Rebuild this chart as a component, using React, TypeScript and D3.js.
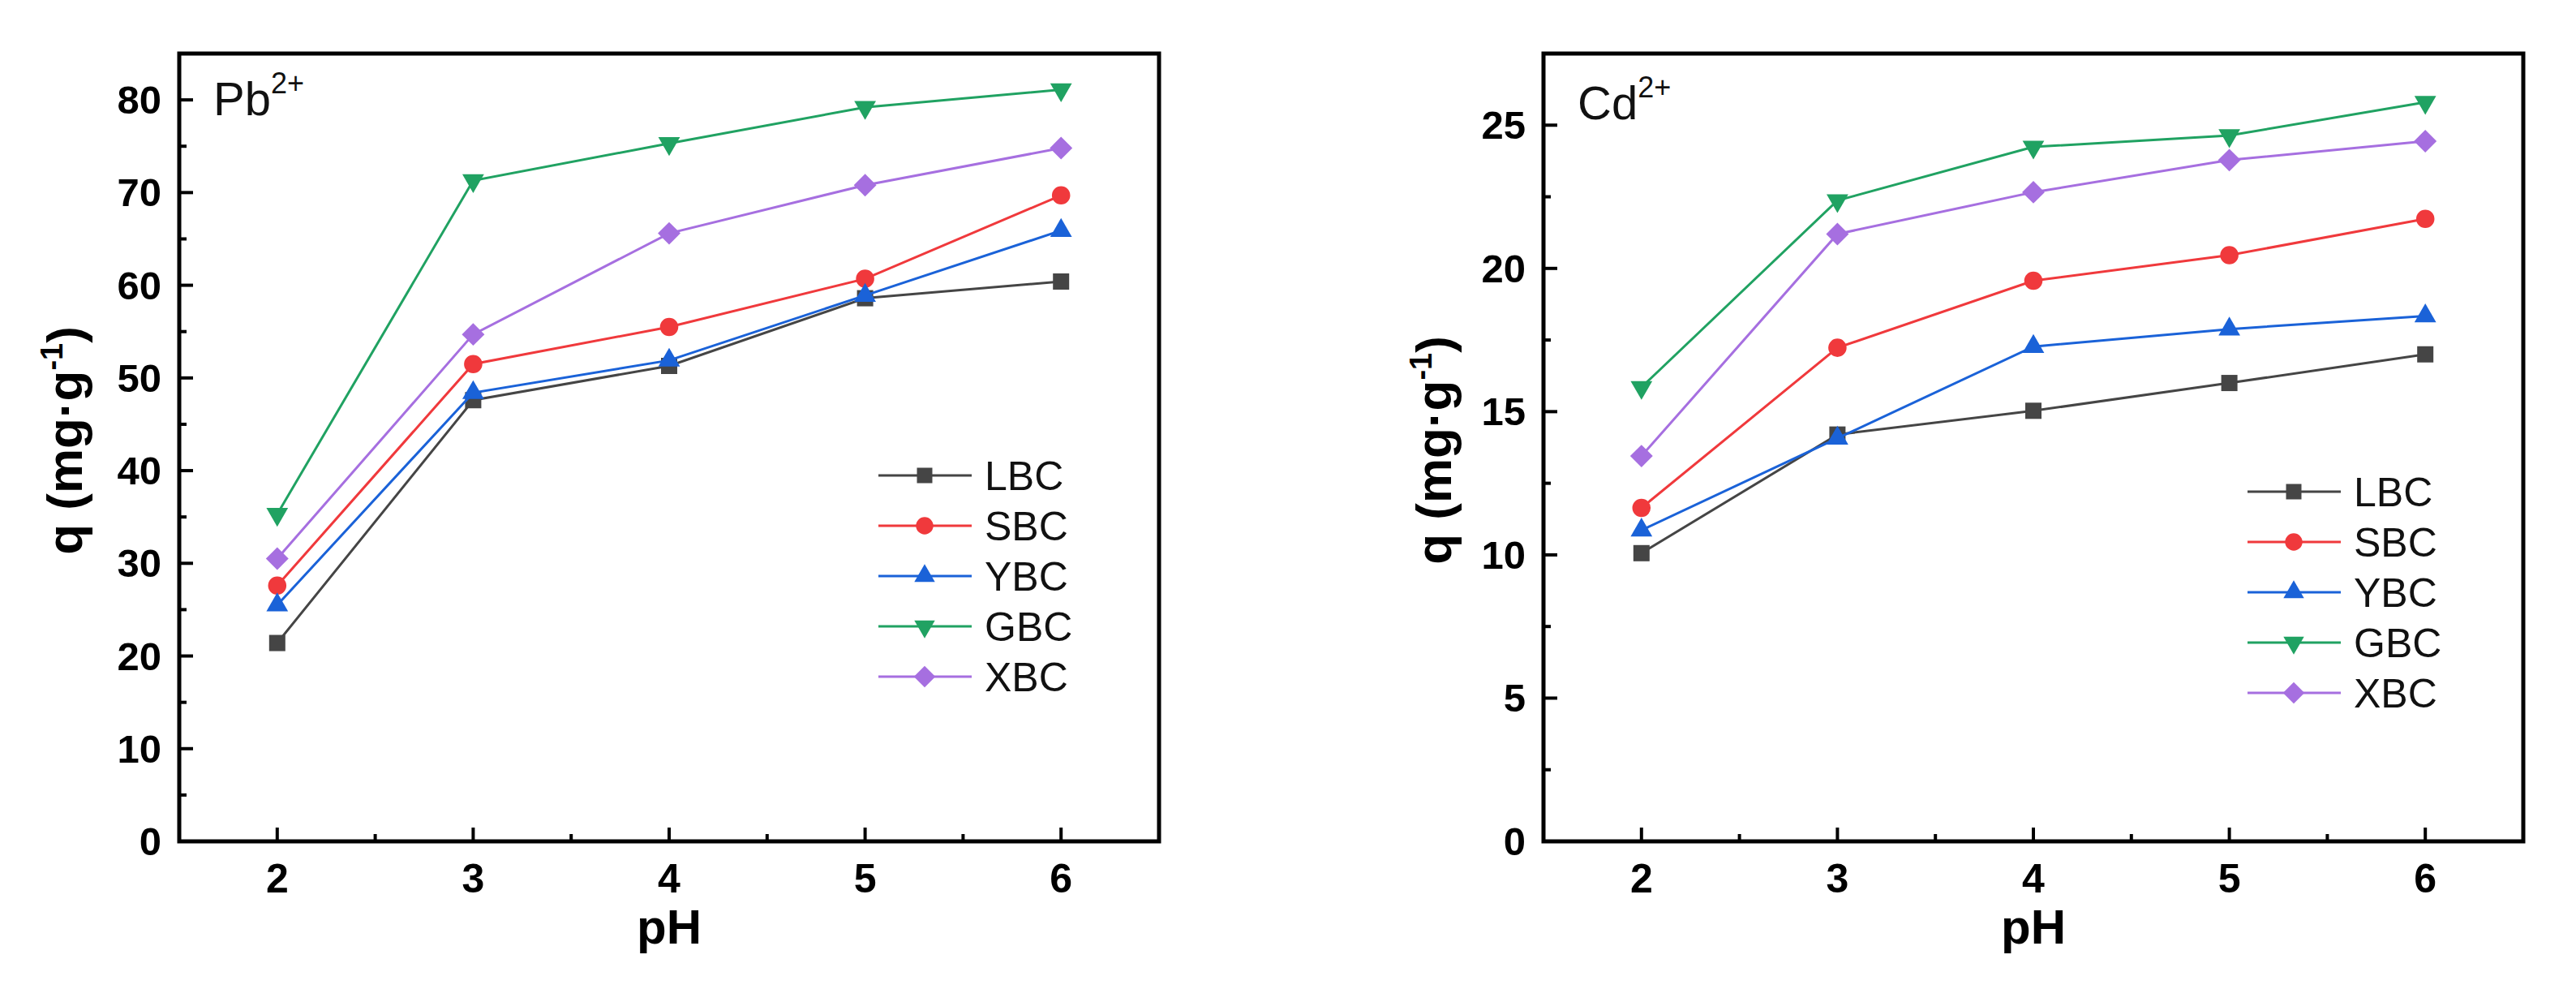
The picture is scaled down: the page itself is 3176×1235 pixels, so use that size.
import React, { useEffect, useRef } from 'react';
import * as d3 from 'd3';

// pH values (x)
const phValues = [2, 3, 4, 5, 6];
const seriesNames = ['LBC', 'SBC', 'YBC', 'GBC', 'XBC'];
const seriesColors = ['#454545', '#f0393c', '#1a62d8', '#20a262', '#a66fe0'];
const seriesSymbols = ['square', 'circle', 'triangle', 'triangleDown', 'diamond'];

// Pb2+ panel (mg/g)
const pbLBC = [21.4, 47.6, 51.3, 58.6, 60.4];
const pbSBC = [27.6, 51.5, 55.5, 60.7, 69.7];
const pbYBC = [25.5, 48.4, 51.9, 58.9, 65.9];
const pbGBC = [35.3, 71.3, 75.3, 79.2, 81.1];
const pbXBC = [30.5, 54.7, 65.6, 70.8, 74.8];

// Cd2+ panel (mg/g)
const cdLBC = [10.06, 14.2, 15.03, 16.0, 17.0];
const cdSBC = [11.64, 17.23, 19.57, 20.46, 21.73];
const cdYBC = [10.86, 14.07, 17.27, 17.88, 18.34];
const cdGBC = [15.85, 22.37, 24.24, 24.64, 25.8];
const cdXBC = [13.45, 21.2, 22.66, 23.78, 24.44];

const xTicks = [2, 3, 4, 5, 6];
const xMinorTicks = [2.5, 3.5, 4.5, 5.5];
const pbYTicks = [0, 10, 20, 30, 40, 50, 60, 70, 80];
const pbYMinor = [5, 15, 25, 35, 45, 55, 65, 75];
const cdYTicks = [0, 5, 10, 15, 20, 25];
const cdYMinor = [2.5, 7.5, 12.5, 17.5, 22.5];

const W = 3176;
const H = 1235;
const FONT = '"Liberation Sans", Arial, sans-serif';

interface Panel {
  left: number;
  ion: string;
  yMax: number;
  yTicks: number[];
  yMinor: number[];
  series: number[][];
  legendTop: number;
  legendX: number;
  titleX: number;
  titleY: number;
  labelBaseline: number;
}

const panels: Panel[] = [
  { left: 221, ion: 'Pb', yMax: 85, yTicks: pbYTicks, yMinor: pbYMinor,
    series: [pbLBC, pbSBC, pbYBC, pbGBC, pbXBC], legendTop: 586, legendX: 1083, titleX: 101, titleY: 543, labelBaseline: 142 },
  { left: 1903, ion: 'Cd', yMax: 27.5, yTicks: cdYTicks, yMinor: cdYMinor,
    series: [cdLBC, cdSBC, cdYBC, cdGBC, cdXBC], legendTop: 606, legendX: 2771, titleX: 1789, titleY: 555, labelBaseline: 147 },
];

const symbolPath = (kind: string) => {
  switch (kind) {
    case 'square': return { d: d3.symbol(d3.symbolSquare, 400)()!, rot: 0 };
    case 'circle': return { d: d3.symbol(d3.symbolCircle, 400)()!, rot: 0 };
    case 'triangle': return { d: d3.symbol(d3.symbolTriangle, 310)()!, rot: 0 };
    case 'triangleDown': return { d: d3.symbol(d3.symbolTriangle, 310)()!, rot: 180 };
    default: return { d: d3.symbol(d3.symbolSquare, 390)()!, rot: 45 };
  }
};

export default function App() {
  const svgRef = useRef<SVGSVGElement>(null);

  useEffect(() => {
    if (!svgRef.current) return;
    const svg = d3.select(svgRef.current);
    svg.selectAll('*').remove();
    svg.append('rect').attr('width', W).attr('height', H).attr('fill', '#fff');

    const top = 66;
    const bottom = 1037;
    const pw = 1208;

    panels.forEach((p) => {
      const x = d3.scaleLinear().domain([1.5, 6.5]).range([p.left, p.left + pw]);
      const y = d3.scaleLinear().domain([0, p.yMax]).range([bottom, top]);
      const g = svg.append('g');

      // series: line, then its markers
      p.series.forEach((vals, si) => {
        const pts = phValues.map((ph, i) => [x(ph), y(vals[i])] as [number, number]);
        g.append('path')
          .attr('d', d3.line()(pts))
          .attr('fill', 'none')
          .attr('stroke', seriesColors[si])
          .attr('stroke-width', 3);
        const sym = symbolPath(seriesSymbols[si]);
        pts.forEach(([px, py]) => {
          g.append('path')
            .attr('d', sym.d)
            .attr('transform', `translate(${px},${py}) rotate(${sym.rot})`)
            .attr('fill', seriesColors[si]);
        });
      });

      // ticks (inward, left + bottom only)
      xTicks.forEach((t) => {
        g.append('line').attr('x1', x(t)).attr('x2', x(t)).attr('y1', bottom).attr('y2', bottom - 17)
          .attr('stroke', '#000').attr('stroke-width', 4);
        g.append('text').attr('x', x(t)).attr('y', 1100).attr('text-anchor', 'middle')
          .attr('font-family', FONT).attr('font-weight', 'bold').attr('font-size', 50).text(String(t));
      });
      xMinorTicks.forEach((t) => {
        g.append('line').attr('x1', x(t)).attr('x2', x(t)).attr('y1', bottom).attr('y2', bottom - 9)
          .attr('stroke', '#000').attr('stroke-width', 4);
      });
      p.yTicks.forEach((t) => {
        g.append('line').attr('x1', p.left).attr('x2', p.left + 17).attr('y1', y(t)).attr('y2', y(t))
          .attr('stroke', '#000').attr('stroke-width', 4);
        g.append('text').attr('x', p.left - 22).attr('y', y(t) + 17).attr('text-anchor', 'end')
          .attr('font-family', FONT).attr('font-weight', 'bold').attr('font-size', 49).text(String(t));
      });
      p.yMinor.forEach((t) => {
        g.append('line').attr('x1', p.left).attr('x2', p.left + 9).attr('y1', y(t)).attr('y2', y(t))
          .attr('stroke', '#000').attr('stroke-width', 4);
      });

      // frame
      g.append('rect').attr('x', p.left).attr('y', top).attr('width', pw).attr('height', bottom - top)
        .attr('fill', 'none').attr('stroke', '#000').attr('stroke-width', 5);

      // ion label
      const lab = g.append('text').attr('x', p.left + 42).attr('y', p.labelBaseline)
        .attr('font-family', FONT).attr('font-size', 58).attr('fill', '#111');
      lab.append('tspan').text(p.ion);
      lab.append('tspan').attr('dy', -27).attr('font-size', 36).text('2+');

      // axis titles
      g.append('text').attr('x', p.left + pw / 2).attr('y', 1163).attr('text-anchor', 'middle')
        .attr('font-family', FONT).attr('font-weight', 'bold').attr('font-size', 60).text('pH');
      const yt = g.append('text').attr('transform', `translate(${p.titleX},${p.titleY}) rotate(-90)`)
        .attr('text-anchor', 'middle').attr('font-family', FONT).attr('font-weight', 'bold').attr('font-size', 62);
      yt.append('tspan').text('q (mg·g');
      yt.append('tspan').attr('dy', -24).attr('font-size', 38).text('-1');
      yt.append('tspan').attr('dy', 24).text(')');

      // legend
      seriesNames.forEach((name, si) => {
        const ly = p.legendTop + si * 62;
        g.append('line').attr('x1', p.legendX).attr('x2', p.legendX + 115).attr('y1', ly).attr('y2', ly)
          .attr('stroke', seriesColors[si]).attr('stroke-width', 3);
        const sym = symbolPath(seriesSymbols[si]);
        g.append('path').attr('d', sym.d)
          .attr('transform', `translate(${p.legendX + 57},${ly}) rotate(${sym.rot}) scale(0.95)`)
          .attr('fill', seriesColors[si]);
        g.append('text').attr('x', p.legendX + 131).attr('y', ly + 18)
          .attr('font-family', FONT).attr('font-size', 50).attr('fill', '#111').text(name);
      });
    });
  }, []);

  return (
    <svg ref={svgRef} width={W} height={H} viewBox={`0 0 ${W} ${H}`}
      style={{ position: 'absolute', left: 0, top: 0, display: 'block' }} />
  );
}
